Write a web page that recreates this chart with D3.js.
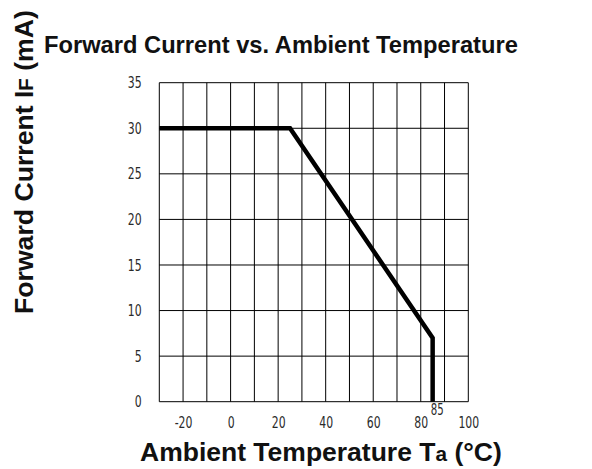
<!DOCTYPE html>
<html>
<head>
<meta charset="utf-8">
<script src="https://cdn.jsdelivr.net/npm/d3@7"></script>
<style>
  body { margin: 0; background: #fff; }
  svg { display: block; }
  .tick text { font-family: "DejaVu Sans", sans-serif; font-size: 16px; fill: #2a2a2a; }
  .lbl { font-family: "Liberation Sans", Arial, sans-serif; font-weight: bold; fill: #111; }
</style>
</head>
<body>
<script>
// derating curve
var tempValues = [-30, 25, 85, 85];
var currentValues = [30, 30, 7, 0];

var xTicks = [-20, 0, 20, 40, 60, 80, 100];
var yTicks = [0, 5, 10, 15, 20, 25, 30, 35];
var xGrid = [-30, -20, -10, 0, 10, 20, 30, 40, 50, 60, 70, 80, 90, 100];
var yGrid = [0, 5, 10, 15, 20, 25, 30, 35];

var W = 592, H = 469;
var pLeft = 159.3, pRight = 468.3, pTop = 82.7, pBottom = 401.7;
var squeeze = 'scale(0.68,1)';

var svg = d3.select('body').append('svg')
	.attr('width', W)
	.attr('height', H);

var x = d3.scaleLinear().domain([-30, 100]).range([pLeft, pRight]);
var y = d3.scaleLinear().domain([0, 35]).range([pBottom, pTop]);

// grid
var grid = svg.append('g');
grid.selectAll('line.v')
	.data(xGrid)
	.enter()
	.append('line')
	.attr('class', 'v')
	.attr('x1', function(d) { return x(d); })
	.attr('x2', function(d) { return x(d); })
	.attr('y1', pTop)
	.attr('y2', pBottom)
	.attr('stroke', '#000')
	.attr('stroke-width', 1);
grid.selectAll('line.h')
	.data(yGrid)
	.enter()
	.append('line')
	.attr('class', 'h')
	.attr('x1', pLeft)
	.attr('x2', pRight)
	.attr('y1', function(d) { return y(d); })
	.attr('y2', function(d) { return y(d); })
	.attr('stroke', '#000')
	.attr('stroke-width', 1);

// tick labels (narrow font look)
var xAxis = svg.append('g')
	.attr('transform', 'translate(0,' + (pBottom + 21) + ')')
	.call(d3.axisBottom(x).tickValues(xTicks).tickSize(0).tickPadding(0).tickFormat(function(d) { return String(d); }));
xAxis.select('.domain').remove();
xAxis.selectAll('.tick text')
	.attr('y', 0)
	.attr('dy', '0.35em')
	.attr('transform', squeeze);

var yAxis = svg.append('g')
	.attr('transform', 'translate(' + 141.7 + ',0)')
	.call(d3.axisLeft(y).tickValues(yTicks).tickSize(0).tickPadding(0));
yAxis.select('.domain').remove();
yAxis.selectAll('.tick text')
	.attr('x', 0)
	.attr('transform', squeeze);

// the curve
var line = d3.line()
	.x(function(d) { return x(d[0]); })
	.y(function(d) { return y(d[1]); });

svg.append('path')
	.datum(d3.zip(tempValues, currentValues))
	.attr('d', line)
	.attr('fill', 'none')
	.attr('stroke', '#000')
	.attr('stroke-width', 4.5)
	.attr('stroke-linejoin', 'miter');

svg.append('text')
	.attr('transform', 'translate(' + (x(85) - 2) + ',' + (pBottom + 13) + ') ' + squeeze)
	.style('font-family', '"DejaVu Sans", sans-serif')
	.style('font-size', '15px')
	.attr('fill', '#2a2a2a')
	.text('85');

// titles, sized to the widths seen in the picture
function fitWidth(sel, target) {
	var w = sel.node().getComputedTextLength();
	var k = target / w;
	sel.style('font-size', parseFloat(sel.style('font-size')) * k + 'px');
	sel.selectAll('tspan').each(function() {
		var t = d3.select(this);
		if (this.style.fontSize) t.style('font-size', parseFloat(this.style.fontSize) * k + 'px');
	});
}

var title = svg.append('text')
	.attr('class', 'lbl')
	.attr('x', 44)
	.attr('y', 53)
	.style('font-size', '20px')
	.text('Forward Current vs. Ambient Temperature');
fitWidth(title, 474);

var xl = svg.append('text')
	.attr('class', 'lbl')
	.attr('x', 140)
	.attr('y', 461)
	.style('font-size', '23px');
xl.append('tspan').text('Ambient Temperature T');
xl.append('tspan').style('font-size', '18px').text('a');
xl.append('tspan').text(' (°C)');
fitWidth(xl, 362);

var yl = svg.append('text')
	.attr('class', 'lbl')
	.attr('transform', 'translate(33,314) rotate(-90)')
	.style('font-size', '21px');
yl.append('tspan').text('Forward Current I');
yl.append('tspan').style('font-size', '16px').text('F');
yl.append('tspan').text(' (mA)');
fitWidth(yl, 304);
</script>
</body>
</html>
